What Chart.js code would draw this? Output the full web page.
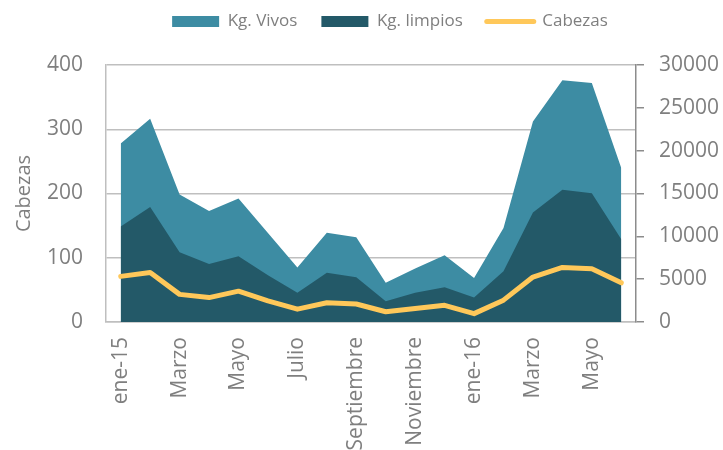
<!DOCTYPE html>
<html>
<head>
<meta charset="utf-8">
<script src="https://cdn.jsdelivr.net/npm/chart.js@4.4.1/dist/chart.umd.min.js"></script>
<style>
  body { margin: 0; background: #fff; }
  .wrap { width: 723px; height: 450px; }
</style>
</head>
<body>
<div class="wrap"><canvas id="myChart" width="723" height="450"></canvas></div>
<script>
var meses = ['ene-15', 'Febrero', 'Marzo', 'Abril', 'Mayo', 'Junio', 'Julio', 'Agosto', 'Septiembre',
    'Octubre', 'Noviembre', 'Diciembre', 'ene-16', 'Febrero', 'Marzo', 'Abril', 'Mayo', 'Junio'];
var kgVivos = [20850, 23720, 14880, 12950, 14420, 10390, 6360, 10430, 9880,
    4570, 6240, 7790, 5150, 10960, 23410, 28220, 27910, 17990];
var kgLimpios = [11160, 13410, 8140, 6780, 7670, 5470, 3410, 5740, 5230,
    2410, 3410, 4070, 2870, 5930, 12790, 15430, 15040, 9650];
var cabezas = [71, 77, 43, 38, 48, 33, 20, 30, 28, 16, 21, 26, 13, 34, 70, 85, 83, 61];

var gris = '#7f7f7f';
Chart.defaults.font.family = '"Open Sans", sans-serif';
Chart.defaults.color = gris;

// nudge the legend to where the original sits
var moverLeyenda = {
    id: 'moverLeyenda',
    afterLayout: function (chart) {
        var l = chart.legend;
        l.left += 19; l.right += 19;
        l.top -= 25; l.bottom -= 25;
    }
};

const ctx = document.getElementById('myChart').getContext('2d');
const myChart = new Chart(ctx, {
    type: 'line',
    data: {
        labels: meses,
        datasets: [{
            label: 'Kg. Vivos',
            data: kgVivos,
            yAxisID: 'y1',
            backgroundColor: '#3d8ca3',
            borderColor: '#3d8ca3',
            borderWidth: 0,
            pointRadius: 0,
            fill: 'origin',
            order: 3
        }, {
            label: 'Kg. limpios',
            data: kgLimpios,
            yAxisID: 'y1',
            backgroundColor: '#235968',
            borderColor: '#235968',
            borderWidth: 0,
            pointRadius: 0,
            fill: 'origin',
            order: 2
        }, {
            label: 'Cabezas',
            data: cabezas,
            yAxisID: 'y',
            borderColor: '#ffc85a',
            backgroundColor: '#ffc85a',
            borderWidth: 5,
            borderCapStyle: 'round',
            borderJoinStyle: 'round',
            pointRadius: 0,
            fill: false,
            order: 1
        }]
    },
    plugins: [moverLeyenda],
    options: {
        responsive: false,
        animation: false,
        layout: { padding: { top: 14, left: 0, right: 0, bottom: 0 } },
        plugins: {
            tooltip: { enabled: false },
            legend: {
                position: 'top',
                fullSize: false,
                labels: {
                    usePointStyle: true,
                    pointStyleWidth: 47,
                    boxHeight: 11,
                    padding: 24,
                    color: gris,
                    font: { size: 17 },
                    generateLabels: function (chart) {
                        return chart.data.datasets.map(function (ds, i) {
                            var esLinea = ds.label == 'Cabezas';
                            return {
                                text: ds.label,
                                datasetIndex: i,
                                fillStyle: ds.backgroundColor,
                                strokeStyle: ds.borderColor,
                                lineWidth: esLinea ? 5 : 0,
                                lineCap: 'round',
                                pointStyle: esLinea ? 'line' : 'rect',
                                fontColor: gris
                            };
                        });
                    }
                }
            }
        },
        scales: {
            x: {
                offset: true,
                grid: { display: false, drawTicks: false },
                border: { color: '#bfbfbf', width: 1.5 },
                ticks: {
                    autoSkip: false,
                    minRotation: 90,
                    maxRotation: 90,
                    padding: 15,
                    font: { size: 21 },
                    callback: function (v, i) { return i % 2 == 0 ? meses[i] : ''; }
                },
                afterFit: function (s) { s.height = 128; }
            },
            y: {
                position: 'left',
                min: 0,
                max: 400,
                ticks: { stepSize: 100, padding: 23, font: { size: 21 } },
                grid: { color: '#bfbfbf', lineWidth: 1.5, drawTicks: false },
                border: { color: '#bfbfbf', width: 1.5 },
                title: { display: true, text: 'Cabezas', font: { size: 20 }, padding: { top: 12, bottom: 0 } },
                afterFit: function (s) { s.width = 106; }
            },
            y1: {
                position: 'right',
                min: 0,
                max: 30000,
                ticks: {
                    stepSize: 5000,
                    padding: 15,
                    font: { size: 21 },
                    callback: function (v) { return String(v); }
                },
                grid: { drawOnChartArea: false, tickLength: 8, color: '#8c8c8c', lineWidth: 1.5 },
                border: { color: '#8c8c8c', width: 1.5 },
                afterFit: function (s) { s.width = 87; }
            }
        }
    }
});
</script>
</body>
</html>
